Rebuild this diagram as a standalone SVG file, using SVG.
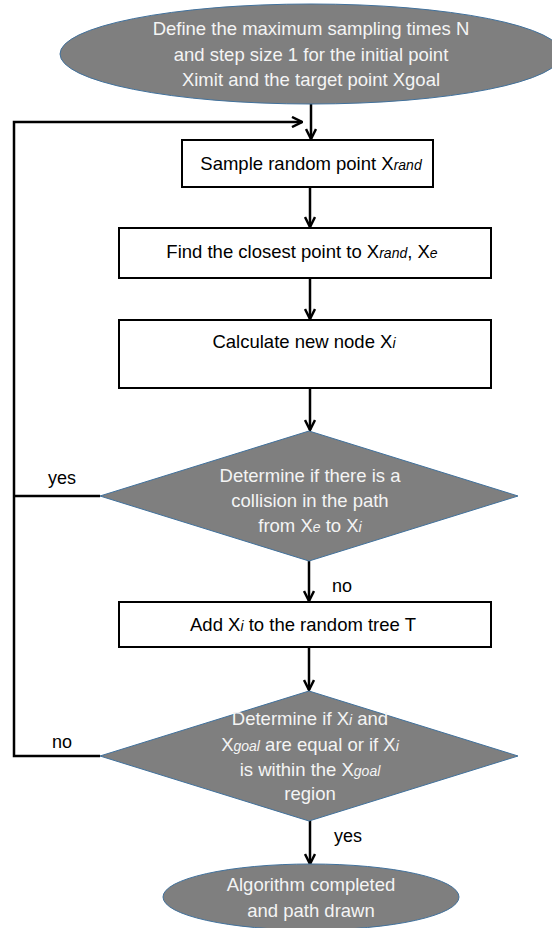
<svg xmlns="http://www.w3.org/2000/svg" width="552" height="928" viewBox="0 0 552 928">
<style>
.term{fill:#7f7f7f;stroke:#41719c;stroke-width:1}
.box{fill:#ffffff;stroke:#000000;stroke-width:2}
.wt{fill:#f4f4f4;font-family:"Liberation Sans",Arial,sans-serif;font-size:18.5px;text-anchor:middle}
.bt{fill:#000000;font-family:"Liberation Sans",Arial,sans-serif;font-size:18.5px;text-anchor:middle}
.lbl{fill:#000000;font-family:"Liberation Sans",Arial,sans-serif;font-size:18px}
.it{font-style:italic;font-size:14px}
.con{fill:none;stroke:#000000;stroke-width:2.5}
</style>
<defs>
<marker id="arr" viewBox="0 0 12 12" refX="11" refY="6" markerWidth="12" markerHeight="12" markerUnits="userSpaceOnUse" orient="auto">
<path d="M1,1 L11,6 L1,11" fill="none" stroke="#000000" stroke-width="2.5"/>
</marker>
</defs>
<g id="connectors">
<path class="con" d="M311,104 V139" marker-end="url(#arr)"/>
<path class="con" d="M100,756 H14 V122 H302" marker-end="url(#arr)"/>
<path class="con" d="M100,496 H14"/>
<path class="con" d="M310,187 V227" marker-end="url(#arr)"/>
<path class="con" d="M310,278 V319" marker-end="url(#arr)"/>
<path class="con" d="M310,388 V430" marker-end="url(#arr)"/>
<path class="con" d="M309,561 V601" marker-end="url(#arr)"/>
<path class="con" d="M309,647 V690" marker-end="url(#arr)"/>
<path class="con" d="M310,821 V864" marker-end="url(#arr)"/>
</g>
<g id="start">
<ellipse class="term" cx="311" cy="54" rx="251" ry="50"/>
<text class="wt" x="311" y="35">Define the maximum sampling times N</text>
<text class="wt" x="311" y="61">and step size 1 for the initial point</text>
<text class="wt" x="311" y="86">Ximit and the target point Xgoal</text>
</g>
<g id="sample">
<rect class="box" x="182" y="140" width="251" height="47"/>
<text class="bt" x="311" y="170">Sample random point X<tspan class="it">rand</tspan></text>
</g>
<g id="closest">
<rect class="box" x="119" y="228" width="372" height="50"/>
<text class="bt" x="302" y="258">Find the closest point to X<tspan class="it">rand</tspan>, X<tspan class="it">e</tspan></text>
</g>
<g id="newnode">
<rect class="box" x="119" y="320" width="372" height="68"/>
<text class="bt" x="304" y="348">Calculate new node X<tspan class="it">i</tspan></text>
</g>
<g id="collision">
<polygon class="term" points="309,431 518,496 309,561 100,496"/>
<text class="wt" x="310" y="482">Determine if there is a</text>
<text class="wt" x="310" y="507">collision in the path</text>
<text class="wt" x="310" y="532">from X<tspan class="it">e</tspan> to X<tspan class="it">i</tspan></text>
</g>
<g id="addnode">
<rect class="box" x="119" y="602" width="372" height="45"/>
<text class="bt" x="303" y="631">Add X<tspan class="it">i</tspan> to the random tree T</text>
</g>
<g id="goalcheck">
<polygon class="term" points="309,691 518,756 309,821 100,756"/>
<text class="wt" x="310" y="725">Determine if X<tspan class="it">i</tspan> and</text>
<text class="wt" x="310" y="751">X<tspan class="it">goal</tspan> are equal or if X<tspan class="it">i</tspan></text>
<text class="wt" x="310" y="776">is within the X<tspan class="it">goal</tspan></text>
<text class="wt" x="310" y="800">region</text>
</g>
<g id="end">
<ellipse class="term" cx="311" cy="897" rx="148" ry="33"/>
<text class="wt" x="311" y="891">Algorithm completed</text>
<text class="wt" x="311" y="917">and path drawn</text>
</g>
<g id="labels">
<text class="lbl" x="48" y="484">yes</text>
<text class="lbl" x="52" y="748">no</text>
<text class="lbl" x="332" y="592">no</text>
<text class="lbl" x="334" y="842">yes</text>
</g>
</svg>
